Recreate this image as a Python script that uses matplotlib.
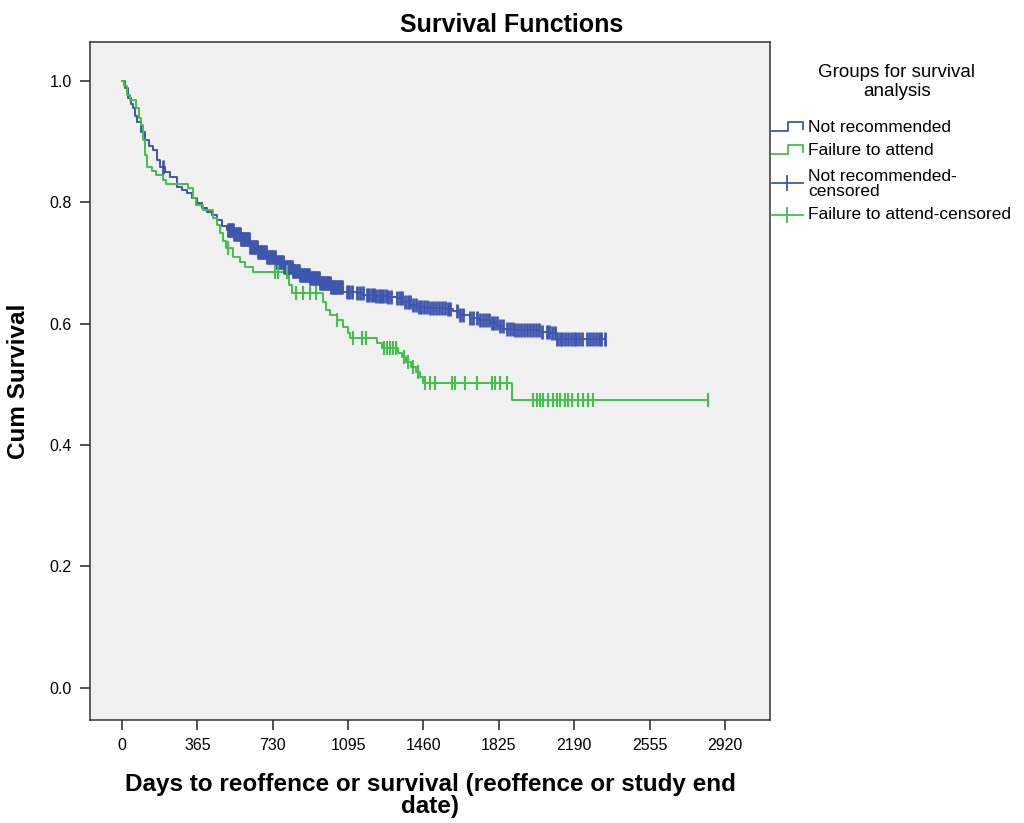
import numpy as np
import matplotlib
matplotlib.use("Agg")
import matplotlib.pyplot as plt

plt.rcParams["font.family"] = ["Liberation Sans", "DejaVu Sans"]

# Kaplan-Meier steps (days, cumulative survival after the event)
blue_times = [0, 15, 29, 44, 53, 63, 73, 92, 111, 131, 150, 169, 184, 208, 232, 266, 291, 315,
              339, 363, 387, 412, 436, 460, 484, 508, 538, 571, 620, 659, 702, 741, 780, 823,
              862, 910, 959, 1007, 1070, 1138, 1167, 1230, 1290, 1332, 1361, 1395, 1429, 1480,
              1530, 1574, 1603, 1637, 1685, 1734, 1782, 1816, 1845, 1900, 1960, 2020, 2073, 2107]
blue_surv = [1.000, 0.988, 0.972, 0.962, 0.956, 0.942, 0.932, 0.916, 0.903, 0.893, 0.886, 0.870,
             0.858, 0.850, 0.842, 0.825, 0.820, 0.815, 0.807, 0.799, 0.791, 0.784, 0.779, 0.771,
             0.761, 0.755, 0.748, 0.740, 0.727, 0.718, 0.710, 0.702, 0.694, 0.687, 0.680, 0.675,
             0.667, 0.661, 0.652, 0.651, 0.647, 0.645, 0.644, 0.642, 0.636, 0.631, 0.628, 0.626,
             0.625, 0.624, 0.621, 0.614, 0.610, 0.606, 0.601, 0.596, 0.591, 0.590, 0.589, 0.587,
             0.585, 0.575]
blue_end = 2339

green_times = [0, 10, 24, 39, 68, 82, 92, 102, 111, 121, 145, 165, 199, 213, 320, 344, 358, 392,
               441, 460, 475, 489, 504, 538, 571, 596, 634, 809, 823, 973, 988, 1007, 1041, 1070,
               1094, 1104, 1235, 1259, 1337, 1356, 1375, 1399, 1424, 1443, 1458, 1889]
green_surv = [1.000, 0.992, 0.977, 0.969, 0.956, 0.939, 0.928, 0.903, 0.878, 0.858, 0.852, 0.845,
              0.837, 0.830, 0.824, 0.807, 0.796, 0.787, 0.774, 0.763, 0.750, 0.736, 0.725, 0.710,
              0.702, 0.694, 0.685, 0.664, 0.651, 0.636, 0.623, 0.614, 0.606, 0.595, 0.585, 0.577,
              0.568, 0.560, 0.552, 0.545, 0.537, 0.529, 0.521, 0.512, 0.502, 0.474]
green_end = 2838

# censored cases (days)
blue_cens = [199, 513, 518, 522, 527, 531, 536, 541, 546, 550, 555, 560, 565, 569, 574, 579, 584,
             588, 593, 598, 603, 607, 612, 617, 622, 626, 631, 636, 641, 645, 650, 655, 660, 664,
             669, 674, 679, 683, 688, 693, 698, 702, 707, 712, 717, 721, 726, 731, 736, 740, 745,
             750, 755, 759, 764, 769, 774, 778, 783, 788, 793, 797, 802, 807, 812, 816, 821, 826,
             831, 835, 840, 845, 850, 854, 859, 864, 869, 873, 878, 883, 888, 892, 897, 902, 907,
             911, 916, 921, 926, 930, 935, 940, 945, 949, 954, 959, 964, 968, 973, 978, 983, 987,
             992, 997, 1002, 1006, 1011, 1016, 1021, 1025, 1030, 1035, 1040, 1044, 1049, 1054,
             1059, 1063,
             1090, 1100, 1112, 1140, 1152, 1165,
             1188, 1198, 1210, 1220, 1232, 1243, 1255, 1266, 1278, 1290, 1302,
             1333, 1345, 1358, 1370, 1383, 1394,
             1410, 1422, 1436, 1450, 1463, 1477, 1490,
             1506, 1520, 1535, 1550, 1563, 1577, 1588,
             1623, 1637, 1650, 1686, 1700, 1717,
             1735, 1748, 1762, 1776, 1790, 1803, 1815, 1831, 1844,
             1865, 1878, 1892, 1905, 1920, 1933, 1947, 1960, 1975, 1990, 2004, 2018, 2032,
             2058, 2070, 2083, 2096,
             2108, 2120, 2133, 2147, 2160, 2174, 2188, 2200, 2215, 2230,
             2252, 2265, 2280, 2294, 2308, 2322, 2339]
green_cens = [513, 741, 755, 799, 843, 877, 910, 939, 1041, 1119, 1162, 1182, 1269, 1283, 1298,
              1312, 1327, 1366, 1385, 1409, 1433, 1467, 1491, 1515, 1598, 1613, 1661, 1719, 1792,
              1806, 1831, 1864, 1990, 2010, 2024, 2039, 2063, 2087, 2107, 2121, 2145, 2160, 2179,
              2208, 2232, 2257, 2281, 2838]

xticks = [0, 365, 730, 1095, 1460, 1825, 2190, 2555, 2920]
yticks = [0.0, 0.2, 0.4, 0.6, 0.8, 1.0]

BLUE = "#3f56b0"
GREEN = "#42c04c"


def surv_at(times, surv, t):
    idx = np.searchsorted(times, t, side="right") - 1
    return np.asarray(surv)[idx]


fig = plt.figure(figsize=(10.24, 8.23), dpi=100)
fig.patch.set_facecolor("white")
ax = fig.add_axes([90 / 1024, 1 - 720 / 823, 680 / 1024, 678 / 823])
ax.set_facecolor("#f0f0f0")

for times, surv, end, cens, col, mw in [(blue_times, blue_surv, blue_end, blue_cens, BLUE, 2.0),
                                        (green_times, green_surv, green_end, green_cens, GREEN, 1.5)]:
    t = list(times) + [end]
    s = list(surv) + [surv[-1]]
    ax.step(t, s, where="post", color=col, lw=1.4, zorder=3)
    ax.plot(cens, surv_at(times, surv, cens), ls="none", marker="|", ms=10, mew=mw,
            color=col, zorder=4)

ax.set_xlim(-155, 3138)
ax.set_ylim(-0.053, 1.064)
ax.set_xticks(xticks)
ax.set_xticklabels([str(v) for v in xticks])
ax.set_yticks(yticks)
ax.set_yticklabels(["%.1f" % v for v in yticks])
ax.tick_params(direction="out", length=7, width=1.1, color="#222222", labelsize=11.5, pad=6)
for sp in ax.spines.values():
    sp.set_color("#333333")
    sp.set_linewidth(1.1)

ax.set_xlabel("Days to reoffence or survival (reoffence or study end\ndate)",
              fontsize=17.5, fontweight="bold", labelpad=14, linespacing=0.95)
ax.set_ylabel("Cum Survival", fontsize=17.5, fontweight="bold", labelpad=14)
fig.text(0.5, 1 - 25 / 823, "Survival Functions", ha="center", va="center",
         fontsize=18, fontweight="bold")

# legend drawn in pixel units to the right of the plot
lax = fig.add_axes([770 / 1024, 1 - 230 / 823, 254 / 1024, 180 / 823])
lax.set_xlim(770, 1024)
lax.set_ylim(230, 50)
lax.axis("off")
lax.text(897, 82, "Groups for survival\nanalysis", ha="center", va="center",
         fontsize=13.5, linespacing=1.15)
lab_kw = dict(ha="left", va="center", fontsize=12.5, linespacing=1.0)
for y0, col, name in [(128, BLUE, "Not recommended"), (151, GREEN, "Failure to attend")]:
    lax.plot([772, 788, 788, 803, 803], [y0 + 3, y0 + 3, y0 - 6, y0 - 6, y0 + 1],
             color=col, lw=1.3, clip_on=False)
    lax.text(808, y0, name, **lab_kw)
for y0, ty, col, name in [(183, 184, BLUE, "Not recommended-\ncensored"),
                          (215, 215, GREEN, "Failure to attend-censored")]:
    lax.plot([772, 803], [y0, y0], color=col, lw=1.3, clip_on=False)
    lax.plot([787, 787], [y0 - 7, y0 + 7], color=col, lw=1.3, clip_on=False)
    lax.text(808, ty, name, **lab_kw)

fig.savefig("out.png", dpi=100, facecolor="white")
